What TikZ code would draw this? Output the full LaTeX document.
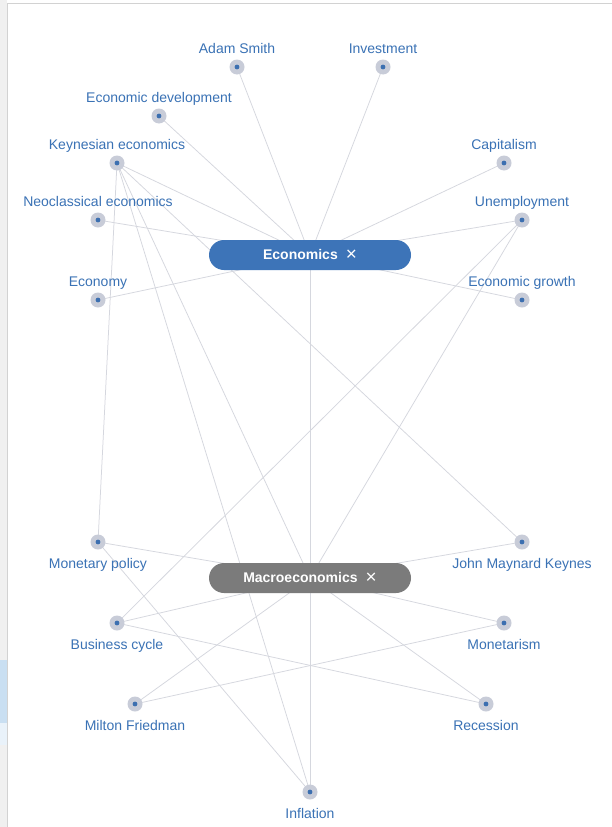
\documentclass[tikz,border=0pt]{standalone}
\usepackage{fontspec}
\setmainfont{Liberation Sans}
\usetikzlibrary{backgrounds}
\definecolor{lblblue}{HTML}{3A72B5}
\definecolor{dotouter}{HTML}{C8CCD8}
\definecolor{dotinner}{HTML}{3C6FB0}
\definecolor{edgegray}{HTML}{D5D7DE}
\definecolor{pillblue}{HTML}{3D74B8}
\definecolor{pillgray}{HTML}{7B7B7B}
\definecolor{stripblue}{HTML}{C9DFF2}
\newcommand{\closex}{{\fontsize{19pt}{19pt}\selectfont\mdseries\raisebox{-0.5pt}{×}}}
\tikzset{
  dotnode/.style={circle, fill=dotouter, minimum size=15pt, inner sep=0pt,
    path picture={\fill[dotinner] (path picture bounding box.center) circle (2.4pt);}},
  lbl/.style={text=lblblue, font=\fontsize{14pt}{16pt}\selectfont, anchor=base, inner sep=0pt},
  pill/.style={rounded corners=15pt, minimum width=202pt, minimum height=30pt, inner sep=0pt,
    text=white, font=\fontsize{14pt}{16pt}\selectfont\bfseries},
  edge/.style={draw=edgegray, line width=0.75pt}
}
\begin{document}
\begin{tikzpicture}[x=1pt,y=-1pt]
\useasboundingbox (0,0) rectangle (612,827);

% topic nodes
\node[dotnode] (adam) at (237,67) {};
\node[dotnode] (invest) at (383,67) {};
\node[dotnode] (ecodev) at (159,116) {};
\node[dotnode] (keyn) at (117,163) {};
\node[dotnode] (capit) at (504,163) {};
\node[dotnode] (neo) at (98,220) {};
\node[dotnode] (unemp) at (522,220) {};
\node[dotnode] (economy) at (98,300) {};
\node[dotnode] (growth) at (522,300) {};
\node[dotnode] (monpol) at (98,542) {};
\node[dotnode] (jmk) at (522,542) {};
\node[dotnode] (bcycle) at (117,623) {};
\node[dotnode] (monet) at (504,623) {};
\node[dotnode] (friedman) at (135,704) {};
\node[dotnode] (recess) at (486,704) {};
\node[dotnode] (infl) at (310,792) {};

% labels
\node[lbl] (adam-l) at (237,53) {Adam Smith};
\node[lbl] (invest-l) at (383,53) {Investment};
\node[lbl] (ecodev-l) at (159,102) {Economic development};
\node[lbl] (keyn-l) at (117,149) {Keynesian economics};
\node[lbl] (capit-l) at (504,149) {Capitalism};
\node[lbl] (neo-l) at (98,206) {Neoclassical economics};
\node[lbl] (unemp-l) at (522,206) {Unemployment};
\node[lbl] (economy-l) at (98,286) {Economy};
\node[lbl] (growth-l) at (522,286) {Economic growth};
\node[lbl] (monpol-l) at (98,568) {Monetary policy};
\node[lbl] (jmk-l) at (522,568) {John Maynard Keynes};
\node[lbl] (bcycle-l) at (117,649) {Business cycle};
\node[lbl] (monet-l) at (504,649) {Monetarism};
\node[lbl] (friedman-l) at (135,730) {Milton Friedman};
\node[lbl] (recess-l) at (486,730) {Recession};
\node[lbl] (infl-l) at (310,818) {Inflation};

% pills
\node[pill, fill=pillblue] (econ) at (310,255) {Economics\hspace{8pt}\closex};
\node[pill, fill=pillgray] (macro) at (310,578) {Macroeconomics\hspace{8pt}\closex};

\begin{scope}[on background layer]
% panel frame
\fill[white] (0,0) rectangle (612,827);
\fill[gray!12] (0,0) rectangle (7,827);
\fill[stripblue] (0,660) rectangle (7,723);
\fill[stripblue!40] (0,723) rectangle (7,745);
\draw[gray!35, line width=0.8pt] (7,827) -- (7,3) -- (612,3);
% edges
\foreach \a/\b in {econ/adam, econ/invest, econ/ecodev, econ/keyn, econ/capit, econ/neo,
  econ/unemp, econ/economy, econ/growth, econ/macro,
  keyn/monpol, keyn/infl, keyn/macro, keyn/jmk,
  unemp/bcycle, unemp/macro,
  macro/monpol, macro/jmk, macro/bcycle, macro/monet, macro/friedman, macro/recess, macro/infl,
  monpol/infl, bcycle/recess, friedman/monet}
  \draw[edge] (\a.center) -- (\b.center);
\end{scope}
\end{tikzpicture}
\end{document}
